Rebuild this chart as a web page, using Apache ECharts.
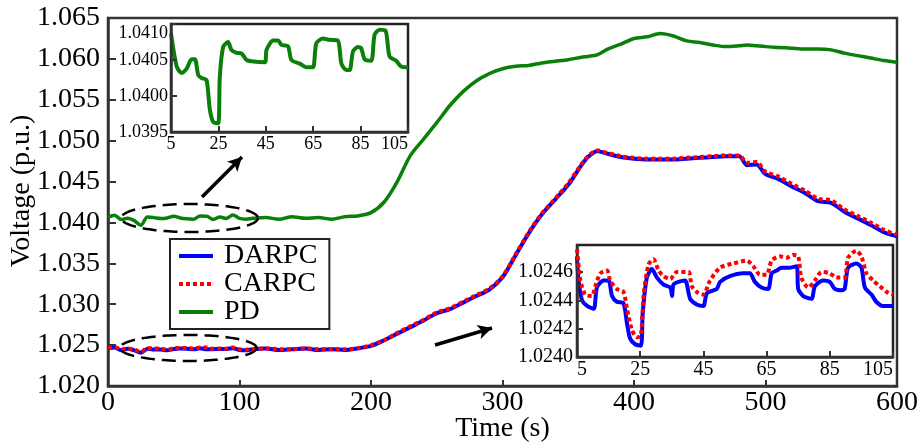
<!DOCTYPE html>
<html><head><meta charset="utf-8">
<script src="https://cdn.jsdelivr.net/npm/echarts@6/dist/echarts.min.js"></script>
<style>html,body{margin:0;padding:0;background:#fff}#c{width:918px;height:445px}</style>
</head><body><div id="c"></div>
<script>
const FONT = 'Liberation Serif';
const seriesNames = ['DARPC', 'CARPC', 'PD'];
const xTickLabelsMain = [0, 100, 200, 300, 400, 500, 600];

const mainTime = [0,5,10,15,20,25,30,35,40,45,50,55,60,65,70,75,80,85,90,95,100,105,110,
  120,130,140,150,160,170,180,190,200,210,220,230,240,250,260,270,280,290,300,310,320,330,340,350,360,
  365,372,
  380,390,400,410,420,430,440,450,460,470,480,
  486,493,
  500,510,520,530,540,550,560,570,580,590,600];

const darpcMain = [1.0246,1.02471,1.02436,1.02454,1.02436,1.02408,1.02457,1.02445,1.02445,1.02437,1.02452,1.02458,1.02457,1.02449,1.02463,1.02448,1.0245,1.02453,1.02452,1.02463,1.0244,1.02436,1.0245,
  1.0246,1.0244,1.0245,1.0246,1.0244,1.0245,1.0244,1.0246,1.0249,1.0256,1.0264,1.0272,1.0280,1.0289,1.0294,1.0302,1.0310,1.0318,1.0333,1.0360,1.0387,1.0410,1.0428,1.0446,1.0470,
  1.0480,1.0487,
  1.0484,1.0480,1.0478,1.0477,1.0477,1.0477,1.0478,1.0479,1.0480,1.0481,1.0481,
  1.0470,1.0471,
  1.0459,1.0453,1.0444,1.0436,1.0426,1.0424,1.0413,1.0405,1.0397,1.0388,1.0383];

const carpcMain = [1.0246,1.02476,1.02448,1.02455,1.02446,1.02415,1.02463,1.0246,1.02458,1.02444,1.02463,1.02466,1.02466,1.02458,1.02471,1.02471,1.02454,1.02459,1.02456,1.02471,1.0245,1.02444,1.0245,
  1.0246,1.0245,1.0245,1.0246,1.0245,1.0245,1.0245,1.0246,1.0250,1.0256,1.0265,1.0273,1.0281,1.0290,1.0295,1.0303,1.0311,1.0319,1.0334,1.0361,1.0388,1.0411,1.0429,1.0448,1.0471,
  1.0481,1.0488,
  1.0485,1.0481,1.0479,1.0478,1.0478,1.0478,1.0479,1.0480,1.0481,1.0482,1.0482,
  1.0473,1.0474,
  1.0462,1.0456,1.0447,1.0439,1.0429,1.0427,1.0416,1.0408,1.0400,1.0391,1.0385];

const pdMain = [1.0406,1.04087,1.04036,1.04051,1.04022,1.03965,1.04066,1.04059,1.04048,1.04055,1.04077,1.04055,1.04044,1.0404,1.04078,1.04077,1.04036,1.04066,1.04049,1.04091,1.04049,1.0404,1.0405,
  1.0406,1.0404,1.0407,1.0405,1.0406,1.0404,1.0407,1.0408,1.0412,1.0425,1.0450,1.0482,1.0502,1.0522,1.0543,1.0560,1.0573,1.0582,1.0588,1.0591,1.0592,1.0595,1.0597,1.0599,1.0602,
  1.0603,1.0605,
  1.0612,1.0618,1.0625,1.0627,1.0631,1.0628,1.0622,1.0620,1.0617,1.0615,1.0616,
  1.0617,1.0616,
  1.0615,1.0614,1.0613,1.0612,1.0612,1.0611,1.0607,1.0604,1.0601,1.0598,1.0596];

const pdZoomTime = [5,7.4,9.5,11.6,13.7,15.1,16.5,17.9,20.0,21.4,22.8,24.9,25.6,27.0,29.1,30.5,32.7,34.8,36.9,39.7,44.6,45.3,48.1,50.2,51.6,54.4,55.8,59.3,62.1,64.9,66.3,69.1,71.9,75.4,76.9,79.0,80.4,81.8,83.9,85.3,86.7,89.5,90.9,93.0,95.5,97.2,100.0,102.1,105];
const pdZoomVal = [1.04087,1.04041,1.04032,1.04038,1.04051,1.04051,1.04029,1.04025,1.04022,1.03981,1.03964,1.03962,1.04027,1.04068,1.04075,1.04064,1.0406,1.04059,1.0405,1.04048,1.04047,1.04064,1.04077,1.04077,1.04071,1.04069,1.0405,1.04045,1.0404,1.0404,1.04073,1.0408,1.04078,1.04077,1.04045,1.04036,1.04036,1.04062,1.04068,1.04066,1.04051,1.04049,1.04085,1.04092,1.04091,1.04055,1.04049,1.04041,1.0404];

const darpcZoomTime = [5,5.5,6.6,8.2,10.3,11.3,13.4,15,16.1,17.6,19.7,20.8,21.8,23.4,25.2,25.8,27.1,28.7,30.3,32.4,34.5,35.1,35.5,37.1,39.2,40.8,42.9,45,46.1,49.2,50.3,53.4,57.6,59.7,61.3,63.4,65.5,66.6,68.2,69.7,72.4,74.5,75,76.6,79.2,80.3,82.9,85,86.6,88.7,89.7,90.8,93.4,95,96.1,98.2,99.7,101.8,105];
const darpcZoomVal = [1.02471,1.02454,1.0244,1.02436,1.02434,1.02449,1.02454,1.02454,1.02443,1.02439,1.02438,1.02424,1.02413,1.02409,1.02408,1.02431,1.02456,1.02462,1.02456,1.02451,1.02449,1.02443,1.02451,1.02453,1.02454,1.02441,1.02437,1.02436,1.02445,1.02448,1.02453,1.02457,1.02459,1.02459,1.02453,1.02449,1.02448,1.02459,1.02461,1.02463,1.02463,1.02464,1.02448,1.02443,1.02441,1.0245,1.02454,1.02453,1.02448,1.02447,1.02448,1.02463,1.02466,1.02463,1.02449,1.02444,1.02439,1.02436,1.02436];

const carpcZoomTime = [5,6.1,7.6,9.7,10.8,12.4,14.5,15.5,17.6,19.7,20.8,22.4,23.9,25.2,26.1,27.6,29.2,30.8,32.4,34.5,36.6,40.3,41.3,43.4,45,47.1,50.3,54.5,58.7,60.8,62.9,65,66.6,69.2,71.3,73.4,75,76,78.2,80.3,82.4,85,87.1,89.7,90.8,93.4,95,96.6,98.7,100.8,102.9,105];
const carpcZoomVal = [1.02476,1.02454,1.02444,1.02443,1.0245,1.02459,1.02461,1.02454,1.02448,1.02446,1.02434,1.02419,1.02414,1.02415,1.02444,1.02465,1.02469,1.02461,1.02457,1.02455,1.0246,1.0246,1.0245,1.02445,1.02444,1.02454,1.02463,1.02466,1.02468,1.02464,1.02458,1.02458,1.02468,1.02471,1.0247,1.02472,1.02471,1.02456,1.02449,1.02454,1.0246,1.02459,1.02456,1.02456,1.0247,1.02475,1.02471,1.02459,1.02454,1.0245,1.02446,1.02444];

// annotation geometry in data coordinates of the main plot
const ellipses = [
  {t: 62, v: 1.04054, dt: 52, dv: 0.00171},
  {t: 61, v: 1.02465, dt: 52, dv: 0.00159}
];
const arrows = [
  [[71.5, 1.04311], [101.9, 1.0480]],
  [[248.7, 1.02501], [292, 1.02709]]
];

const pairs = (ts, vs) => ts.map((t, i) => [t, vs[i]]);
const BLUE = '#0000ff', RED = '#ff0000', GREEN = '#0a800a', AX = '#333';
const ICON_SOLID = 'path://M0,0H34V4H0Z';
const ICON_DOTTED = 'path://M0,0h4v4h-4zM7,0h4v4h-4zM14,0h4v4h-4zM21,0h4v4h-4zM28,0h4v4h-4zM33.9,0h0.1v4h-0.1z';

function axisCommon(fs) {
  return {
    axisLine: {show: true, lineStyle: {color: AX, width: 2.5}},
    axisTick: {show: true, inside: true, length: 6, lineStyle: {color: AX, width: 2}},
    splitLine: {show: false},
    axisLabel: {color: '#000', fontFamily: FONT, fontSize: fs}
  };
}

const chart = echarts.init(document.getElementById('c'), null, {renderer: 'canvas'});
const option = {
  animation: false,
  backgroundColor: '#fff',
  grid: [
    {left: 108, top: 18, right: 21, bottom: 59, show: true, borderColor: AX, borderWidth: 2.5, containLabel: false, outerBoundsMode: 'none'},
    {left: 171, top: 24, width: 237, height: 108, show: true, backgroundColor: '#fff', borderColor: '#222', borderWidth: 2.5, z: 10, containLabel: false, outerBoundsMode: 'none'},
    {left: 577, top: 245, width: 316, height: 112, show: true, backgroundColor: '#fff', borderColor: '#222', borderWidth: 2.5, z: 10, containLabel: false, outerBoundsMode: 'none'}
  ],
  legend: {
    data: [
      {name: seriesNames[0], icon: ICON_SOLID},
      {name: seriesNames[1], icon: ICON_DOTTED},
      {name: seriesNames[2], icon: ICON_SOLID}
    ],
    orient: 'vertical', left: 170, top: 239,
    backgroundColor: '#fff',
    borderColor: '#222', borderWidth: 2, borderRadius: 0,
    padding: [3, 12, 3, 9], itemGap: 0, itemWidth: 34, itemHeight: 4,
    textStyle: {fontFamily: FONT, fontSize: 28, color: '#000', lineHeight: 28, padding: [0, 0, 0, 6]},
    z: 20
  },
  xAxis: [
    Object.assign(axisCommon(28), {gridIndex: 0, type: 'value', min: 0, max: 600, interval: 100,
      name: 'Time (s)', nameLocation: 'middle', nameGap: 29, nameMoveOverlap: false,
      nameTextStyle: {fontFamily: FONT, fontSize: 28, color: '#000'},
      axisLabel: {color: '#000', fontFamily: FONT, fontSize: 28, margin: 3, formatter: v => xTickLabelsMain.includes(v) ? String(v) : ''}}),
    Object.assign(axisCommon(18), {gridIndex: 1, type: 'value', min: 5, max: 105, interval: 20, z: 12,
      axisLabel: {color: '#000', fontFamily: FONT, fontSize: 18, margin: 3, alignMaxLabel: 'right'}}),
    Object.assign(axisCommon(20), {gridIndex: 2, type: 'value', min: 5, max: 105, interval: 20, z: 12,
      axisLabel: {color: '#000', fontFamily: FONT, fontSize: 20, margin: 3, alignMaxLabel: 'right', alignMinLabel: 'left'}})
  ],
  yAxis: [
    Object.assign(axisCommon(28), {gridIndex: 0, type: 'value', min: 1.020, max: 1.065, interval: 0.005,
      name: 'Voltage (p.u.)', nameLocation: 'middle', nameGap: 72, nameMoveOverlap: false,
      nameTextStyle: {fontFamily: FONT, fontSize: 28, color: '#000', padding: [0, 0, 0, 22]},
      axisTick: {show: true, inside: true, length: 8, lineStyle: {color: AX, width: 2}},
      axisLabel: {color: '#000', fontFamily: FONT, fontSize: 28, margin: 8, formatter: v => v.toFixed(3)}}),
    Object.assign(axisCommon(18), {gridIndex: 1, type: 'value', min: 1.0395, max: 1.0410, interval: 0.0005, z: 12,
      axisLabel: {color: '#000', fontFamily: FONT, fontSize: 18, margin: 3, verticalAlignMaxLabel: 'top', formatter: v => v.toFixed(4)}}),
    Object.assign(axisCommon(20), {gridIndex: 2, type: 'value', min: 1.0240, max: 1.02479, interval: 0.0002, z: 12,
      axisLabel: {color: '#000', fontFamily: FONT, fontSize: 20, margin: 4, showMaxLabel: false, formatter: v => v.toFixed(4)}})
  ],
  series: [
    {name: 'DARPC', type: 'line', xAxisIndex: 0, yAxisIndex: 0, data: pairs(mainTime, darpcMain),
      showSymbol: false, symbol: 'none', smooth: 0.3, lineStyle: {color: BLUE, width: 4}, itemStyle: {color: BLUE}, z: 3},
    {name: 'CARPC', type: 'line', xAxisIndex: 0, yAxisIndex: 0, data: pairs(mainTime, carpcMain),
      showSymbol: false, symbol: 'none', smooth: 0.3, lineStyle: {color: RED, width: 4, type: [4, 3], cap: 'butt'}, itemStyle: {color: RED}, z: 4},
    {name: 'PD', type: 'line', xAxisIndex: 0, yAxisIndex: 0, data: pairs(mainTime, pdMain),
      showSymbol: false, symbol: 'none', smooth: 0.3, lineStyle: {color: GREEN, width: 3.5}, itemStyle: {color: GREEN}, z: 3,
      markLine: {silent: true, symbol: ['none', 'arrow'], symbolSize: [11, 14], precision: 6,
        lineStyle: {color: '#000', width: 3.5, type: 'solid'}, label: {show: false}, emphasis: {disabled: true},
        data: arrows.map(a => [{coord: a[0]}, {coord: a[1]}])}},
    {name: 'PD-zoom', type: 'line', xAxisIndex: 1, yAxisIndex: 1, data: pairs(pdZoomTime, pdZoomVal),
      showSymbol: false, symbol: 'none', smooth: 0.25, lineStyle: {color: GREEN, width: 4}, z: 11},
    {name: 'DARPC-zoom', type: 'line', xAxisIndex: 2, yAxisIndex: 2, data: pairs(darpcZoomTime, darpcZoomVal),
      showSymbol: false, symbol: 'none', smooth: 0.25, lineStyle: {color: BLUE, width: 4}, z: 11},
    {name: 'CARPC-zoom', type: 'line', xAxisIndex: 2, yAxisIndex: 2, data: pairs(carpcZoomTime, carpcZoomVal),
      showSymbol: false, symbol: 'none', smooth: 0.25, lineStyle: {color: RED, width: 4, type: [4, 3], cap: 'butt'}, z: 12}
  ]
};
chart.setOption(option);

// dashed ellipses, placed through the main plot's coordinate system
const graphics = ellipses.map(e => {
  const c = chart.convertToPixel({gridIndex: 0}, [e.t, e.v]);
  const r = chart.convertToPixel({gridIndex: 0}, [e.t + e.dt, e.v + e.dv]);
  const rx = Math.abs(r[0] - c[0]), ry = Math.abs(r[1] - c[1]);
  const pts = [];
  for (let k = 0; k < 120; k++) {
    const a = k / 120 * Math.PI * 2;
    pts.push([c[0] + rx * Math.cos(a), c[1] + ry * Math.sin(a)]);
  }
  return {type: 'polygon', shape: {points: pts}, silent: true, z: 15,
    style: {fill: 'none', stroke: '#000', lineWidth: 2.5, lineDash: [14, 7]}};
});
chart.setOption({graphic: graphics});
</script>
</body></html>
